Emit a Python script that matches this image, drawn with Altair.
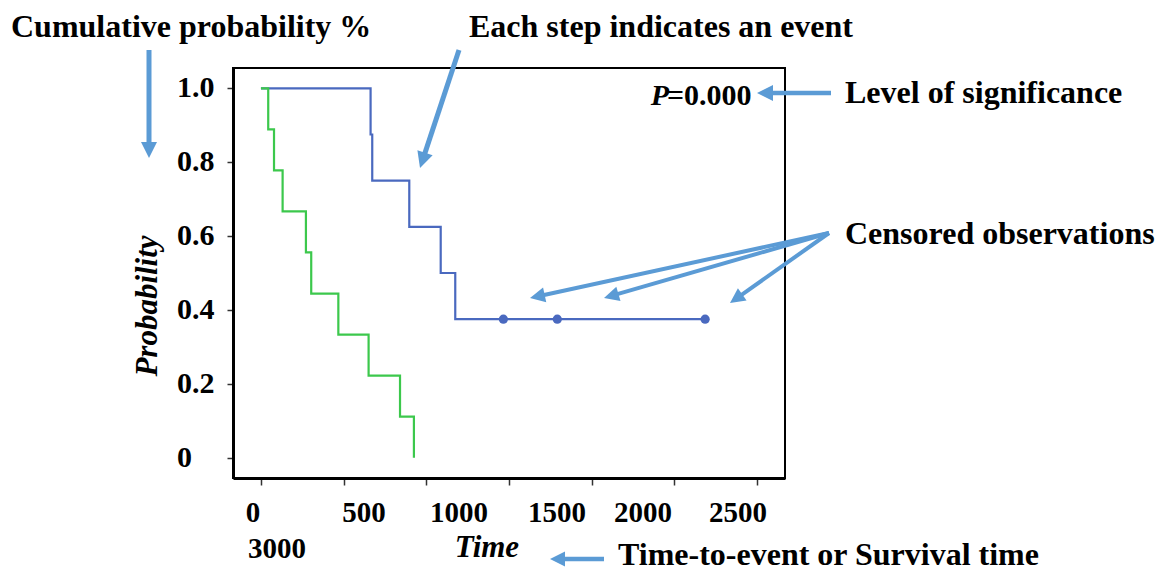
import math
import altair as alt
import pandas as pd

# ---------------- data ----------------
green_time = [0, 44, 79, 131, 272, 304, 468, 651, 841, 925]
green_surv = [1.0, 0.889, 0.778, 0.667, 0.556, 0.444, 0.333, 0.222, 0.111, 0.0]
blue_time = [0, 663, 673, 897, 1087, 1175, 2686]
blue_surv = [1.0, 0.875, 0.75, 0.625, 0.5, 0.375, 0.375]
censor_time = [1466, 1792, 2686]
censor_surv = [0.375, 0.375, 0.375]
x_ticks = [0, 500, 1000, 1500, 2000, 2500, 3000]
x_tick_labels = ["0", "500", "1000", "1500", "2000", "2500", "3000"]
y_ticks = [1.0, 0.8, 0.6, 0.4, 0.2, 0.0]
y_tick_labels = ["1.0", "0.8", "0.6", "0.4", "0.2", "0"]

# ---------------- layout / style ----------------
FONT = "Liberation Serif"
BLUE = "#4a69bf"
GREEN = "#3cc84c"
ARROW = "#5b9bd5"
W, H = 552, 410          # plot area
OX, OY = 233, 68         # plot origin on the page
PAGE_W, PAGE_H = 1149, 564

xscale = alt.Scale(domain=[-169, 3169], nice=False, zero=False)
yscale = alt.Scale(domain=[-0.055, 1.055], nice=False, zero=False)
xaxis = alt.Axis(values=x_ticks, labels=False, title=None, grid=False,
                 domainColor="black", domainWidth=3, tickSize=7,
                 tickColor="#333333", tickWidth=1.5)
yaxis = alt.Axis(values=y_ticks, labels=False, title=None, grid=False,
                 domainColor="black", domainWidth=3, tickSize=6,
                 tickColor="#333333", tickWidth=1.5)

one = pd.DataFrame({"k": [0]})

blue_df = pd.DataFrame({"time": blue_time, "surv": blue_surv})
green_df = pd.DataFrame({"time": green_time, "surv": green_surv})
cens_df = pd.DataFrame({"time": censor_time, "surv": censor_surv})
ylab_df = pd.DataFrame({"v": y_ticks, "lab": y_tick_labels})

blue_line = alt.Chart(blue_df).mark_line(
    interpolate="step-after", color=BLUE, strokeWidth=2.2
).encode(
    x=alt.X("time:Q", scale=xscale, axis=xaxis),
    y=alt.Y("surv:Q", scale=yscale, axis=yaxis),
)
green_line = alt.Chart(green_df).mark_line(
    interpolate="step-after", color=GREEN, strokeWidth=2.2
).encode(
    x=alt.X("time:Q", scale=xscale),
    y=alt.Y("surv:Q", scale=yscale),
)
cens = alt.Chart(cens_df).mark_circle(size=85, color=BLUE, opacity=1).encode(
    x=alt.X("time:Q", scale=xscale),
    y=alt.Y("surv:Q", scale=yscale),
)
ylabels = alt.Chart(ylab_df).mark_text(
    align="left", baseline="middle", font=FONT, fontSize=30,
    fontWeight="bold", color="black"
).encode(
    y=alt.Y("v:Q", scale=yscale),
    x=alt.value(177 - OX),
    text="lab:N",
)


def txt(s, x, y, size=32, align="left", style="normal", baseline="alphabetic", angle=0):
    return alt.Chart(one).mark_text(
        text=s, font=FONT, fontSize=size, fontWeight="bold", fontStyle=style,
        align=align, baseline=baseline, angle=angle, color="black"
    ).encode(x=alt.value(x - OX), y=alt.value(y - OY))


def arrow(tail, tip, width=4.5, head=16):
    x1, y1 = tail
    x2, y2 = tip
    dx, dy = x2 - x1, y2 - y1
    L = math.hypot(dx, dy)
    ux, uy = dx / L, dy / L
    ex, ey = x2 - ux * head * 0.8, y2 - uy * head * 0.8
    ang = math.degrees(math.atan2(dx, -dy)) % 360
    shaft = alt.Chart(one).mark_rule(
        color=ARROW, strokeWidth=width, strokeCap="butt"
    ).encode(x=alt.value(x1 - OX), y=alt.value(y1 - OY),
             x2=alt.value(ex - OX), y2=alt.value(ey - OY))
    hd = alt.Chart(one).mark_point(
        shape="M0,0L-1,2L1,2Z", size=head * head, filled=True, color=ARROW,
        opacity=1, strokeWidth=0, angle=ang
    ).encode(x=alt.value(x2 - OX), y=alt.value(y2 - OY))
    return [shaft, hd]


# x tick labels: typed as a text row under the axis in the original
xlab_pos = [(253, 522), (364, 522), (459, 522), (557, 522), (643, 522), (738, 522), (277, 558)]
xlabels = [txt(s, px, py, size=29, align="center") for s, (px, py) in zip(x_tick_labels, xlab_pos)]

annots = [
    txt("Cumulative probability %", 11, 37),
    txt("Each step indicates an event", 469, 37),
    txt("Level of significance", 845, 103),
    txt("Censored observations", 845, 244),
    txt("Time-to-event or Survival time", 618, 565),
    txt("Time", 487, 557, size=31, align="center", style="italic"),
    txt("Probability", 148, 306, size=31, align="center", style="italic", baseline="middle", angle=270),
    txt("P", 669, 105, size=30, align="right", style="italic"),
    txt("=0.000", 667, 105, size=30, align="left"),
]

arrows = []
arrows += arrow((149, 50), (149, 158), width=5, head=16)
arrows += arrow((459, 50), (420, 168), width=5, head=16)
arrows += arrow((831, 93), (757, 93), width=4.5, head=16)
arrows += arrow((829, 233), (530, 298), width=4, head=15)
arrows += arrow((829, 233), (604, 298), width=4, head=15)
arrows += arrow((829, 233), (730, 303), width=4, head=15)
arrows += arrow((604, 559), (550, 559), width=4.5, head=15)

chart = alt.layer(
    blue_line, green_line, cens, ylabels, *xlabels, *annots, *arrows
).properties(
    width=W, height=H,
    background="white",
    autosize=alt.AutoSizeParams(type="none"),
    padding={"left": OX - 8, "top": OY - 8,
             "right": PAGE_W - (OX - 8) - W, "bottom": PAGE_H - (OY - 8) - H},
).configure_view(
    stroke="black", strokeWidth=2
)

chart.save("out.html", embed_options={"renderer": "svg", "actions": False})
